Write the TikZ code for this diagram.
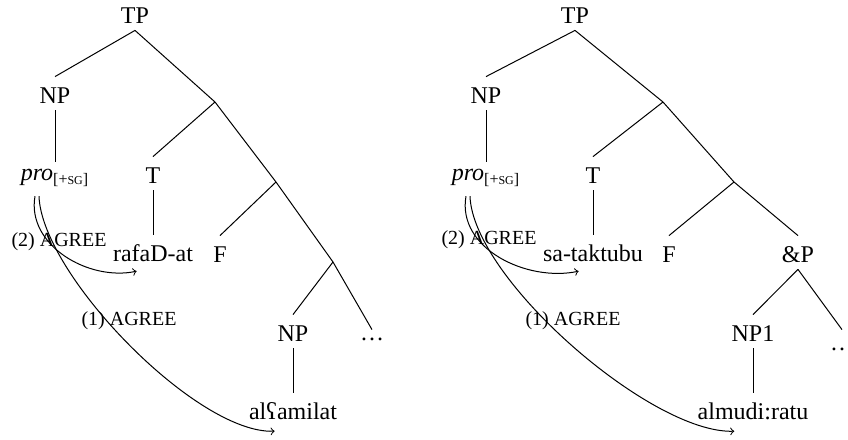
\documentclass[tikz,border=0pt]{standalone}
\usepackage{fontspec}
\setmainfont{Liberation Serif}
\usetikzlibrary{positioning}
\newcommand{\fsc}[1]{{\fontsize{6}{7}\selectfont #1}}

\begin{document}
\begin{tikzpicture}[x=0.5pt, y=-0.5pt]
\tikzstyle{cat} = [inner sep=0pt, text height=13pt, text depth=3.5pt, font=\fontsize{12}{14}\selectfont]
\tikzstyle{agree} = [inner sep=0pt, font=\fontsize{10}{12}\selectfont]
\tikzstyle{branch} = [line width=0.5pt]
\tikzstyle{agreearrow} = [line width=0.5pt, ->]

\useasboundingbox (0,0) rectangle (848,440);

% Left Tree
\node (tpL) [cat] at (135,13.5) {TP};
\node (npL) [cat] at (55,93.5) {NP};
\node (proL) [cat, text height=9pt, below=26pt of npL] {\textit{pro}\textsubscript{[+\fsc{SG}]}};
\coordinate (jL1) at (215,102);
\node (tL) [cat] at (153,173.5) {T};
\node (vL) [cat, below=22.5pt of tL] {rafaD-at};
\coordinate (jL2) at (276,182);
\node (fL) [cat] at (220,252.5) {F};
\coordinate (jL3) at (333,262);
\node (np2L) [cat] at (293,331.5) {NP};
\node (dotsL) [cat, text height=5pt] at (372,338.5) {\dots};
\node (objL) [cat, below=22.5pt of np2L] {alʕamilat};

\draw [branch] (tpL.south) -- (npL.north);
\draw [branch] (tpL.south) -- (jL1) -- (jL2) -- (jL3) -- (dotsL.north);
\draw [branch] (npL) -- (proL);
\draw [branch] (jL1) -- (tL.north);
\draw [branch] (tL) -- (vL);
\draw [branch] (jL2) -- (fL.north);
\draw [branch] (jL3) -- (np2L.north);
\draw [branch] (np2L) -- (objL);

% Agree arrows, left
\node (agr2L) [agree] at (59,242) {(2) AGREE};
\node (agr1L) [agree] at (129,321) {(1) AGREE};
\draw [agreearrow] ([xshift=-10pt,yshift=-4pt]proL.south) to[out=-100, in=192] ([xshift=12pt,yshift=-1pt]vL.south west);
\draw [agreearrow] ([xshift=-8pt,yshift=-4pt]proL.south) to[out=-88, in=182, looseness=0.6] ([xshift=13pt,yshift=-2pt]objL.south west);

% Right Tree
\node (tpR) [cat] at (575,13.5) {TP};
\node (npR) [cat] at (486,93.5) {NP};
\node (proR) [cat, text height=9pt, below=26pt of npR] {\textit{pro}\textsubscript{[+\fsc{SG}]}};
\coordinate (jR1) at (663,102);
\node (tR) [cat] at (593,173.5) {T};
\node (vR) [cat, below=22.5pt of tR] {sa-taktubu};
\coordinate (jR2) at (734,182);
\node (fR) [cat] at (669,252.5) {F};
\node (andR) [cat] at (798,252.5) {\&P};
\node (np1R) [cat] at (753,331.5) {NP1};
\node (dotsR) [cat, text height=10pt] at (842,343.5) {\dots};
\node (objR) [cat, below=22.5pt of np1R] {almudi:ratu};

\draw [branch] (tpR.south) -- (npR.north);
\draw [branch] (tpR.south) -- (jR1) -- (jR2) -- (andR.north);
\draw [branch] (npR) -- (proR);
\draw [branch] (jR1) -- (tR.north);
\draw [branch] (tR) -- (vR);
\draw [branch] (jR2) -- (fR.north);
\draw [branch] (andR.south) -- (np1R.north);
\draw [branch] (andR.south) -- (dotsR.north);
\draw [branch] (np1R) -- (objR);

% Agree arrows, right
\node (agr2R) [agree] at (489,240) {(2) AGREE};
\node (agr1R) [agree] at (573,321) {(1) AGREE};
\draw [agreearrow] ([xshift=-10pt,yshift=-4pt]proR.south) to[out=-100, in=192] ([xshift=18pt,yshift=-1pt]vR.south west);
\draw [agreearrow] ([xshift=-8pt,yshift=-4pt]proR.south) to[out=-88, in=182, looseness=0.6] ([xshift=18.5pt,yshift=-2pt]objR.south west);

\end{tikzpicture}
\end{document}
